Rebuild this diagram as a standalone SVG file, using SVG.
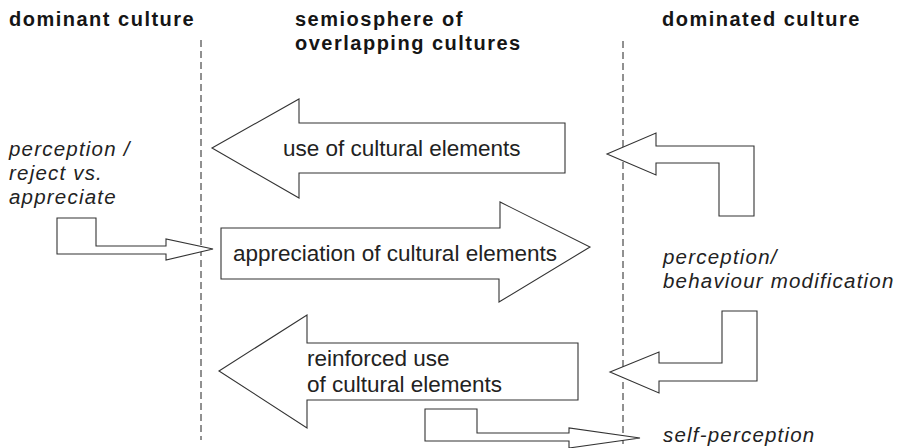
<svg xmlns="http://www.w3.org/2000/svg" width="897" height="448" viewBox="0 0 897 448">
<style>
.bg{fill:#fff}
.div{stroke:#222;stroke-width:1;stroke-dasharray:7 4;fill:none}
.arr{fill:#fff;stroke:#333;stroke-width:1.1;stroke-linejoin:miter}
.h{font-family:"Liberation Sans",Arial,sans-serif;font-weight:bold;font-size:20px;letter-spacing:1.5px;fill:#151515}
.i{font-family:"Liberation Sans",Arial,sans-serif;font-style:italic;font-size:20.5px;letter-spacing:1.2px;fill:#222}
.t{font-family:"Liberation Sans",Arial,sans-serif;font-size:22.5px;fill:#222}
</style>
<rect class="bg" x="0" y="0" width="897" height="448"/>
<g id="headings">
<text class="h" x="9" y="26">dominant culture</text>
<text class="h" x="295" y="26">semiosphere of</text>
<text class="h" x="295" y="50">overlapping cultures</text>
<text class="h" x="662" y="26">dominated culture</text>
</g>
<g id="dividers">
<line class="div" x1="201" y1="40" x2="201" y2="440"/>
<line class="div" x1="623" y1="41" x2="623" y2="448"/>
</g>
<g id="connectors">
<polygon class="arr" points="607,154 656,133 656,146 754,146 754,216 719,216 719,163 656,163 656,175"/>
<polygon class="arr" points="610,372 659,352 659,363 722,363 722,311 757,311 757,381 659,381 659,393"/>
<polygon class="arr" points="57,218 96,218 96,246 166,246 166,239 213,249 166,260 166,254 57,254"/>
<polygon class="arr" points="425,409 477,409 477,433 569,433 569,428 640,438 569,448 569,441 425,441"/>
</g>
<g id="use">
<polygon class="arr" points="212,148 299,99 299,123 565,123 565,173 299,173 299,198"/>
<text class="t" x="283" y="156">use of cultural elements</text>
</g>
<g id="appreciation">
<polygon class="arr" points="221,228 500,228 500,202 590,247 499,302 499,279 221,279"/>
<text class="t" x="233" y="261">appreciation of cultural elements</text>
</g>
<g id="reinforced">
<polygon class="arr" points="219,371 307,315 307,343 578,343 578,400 307,400 307,428"/>
<text class="t" x="307" y="366">reinforced use</text>
<text class="t" x="307" y="392">of cultural elements</text>
</g>
<g id="labels">
<text class="i" x="9" y="156">perception /</text>
<text class="i" x="9" y="180">reject vs.</text>
<text class="i" x="9" y="204">appreciate</text>
<text class="i" x="663" y="264">perception/</text>
<text class="i" x="663" y="288">behaviour modification</text>
<text class="i" x="663" y="442">self-perception</text>
</g>
</svg>
